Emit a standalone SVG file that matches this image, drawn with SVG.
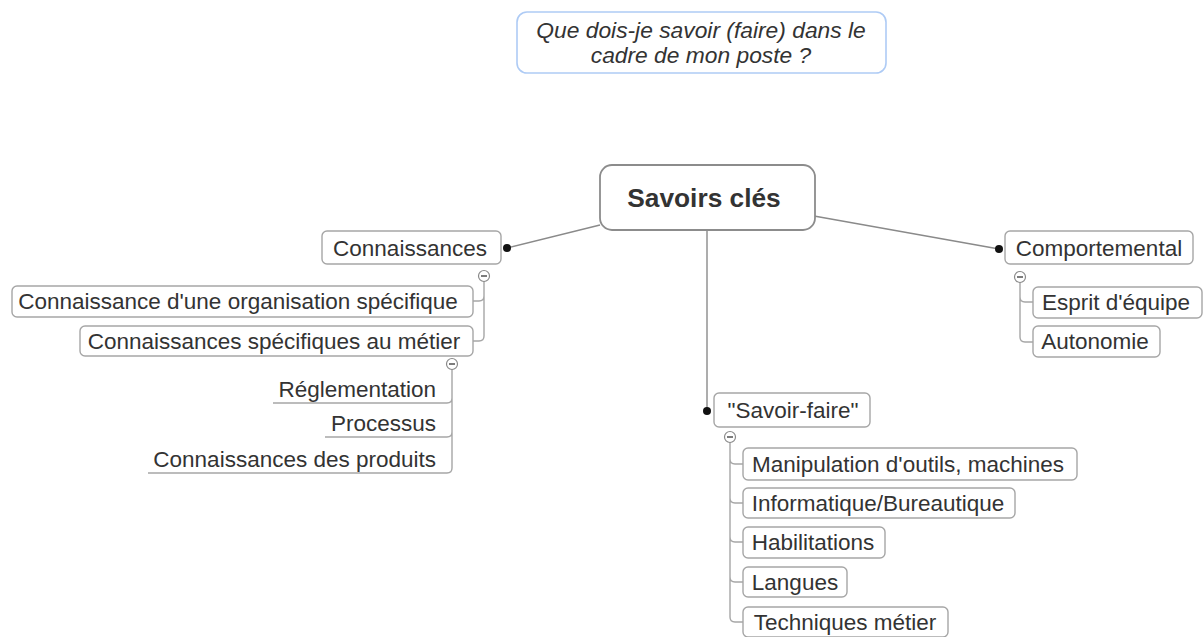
<svg xmlns="http://www.w3.org/2000/svg" width="1204" height="637" viewBox="0 0 1204 637">
<style>
.bg{fill:#ffffff}
.box{fill:#ffffff;stroke:#a6a6a6;stroke-width:1.4}
.root{fill:#ffffff;stroke:#8c8c8c;stroke-width:1.8}
.q{fill:#ffffff;stroke:#aecbf5;stroke-width:1.6}
.t{font-family:"Liberation Sans",Arial,sans-serif;font-size:22.5px;fill:#333333;text-anchor:middle}
.te{font-family:"Liberation Sans",Arial,sans-serif;font-size:22.5px;fill:#333333;text-anchor:end}
.tr{font-family:"Liberation Sans",Arial,sans-serif;font-size:26.3px;font-weight:bold;fill:#333333;text-anchor:middle}
.ti{font-family:"Liberation Sans",Arial,sans-serif;font-size:22.8px;font-style:italic;fill:#333333;text-anchor:middle}
.ln{fill:none;stroke:#8a8a8a;stroke-width:1.4}
.tree{fill:none;stroke:#a6a6a6;stroke-width:1.4}
.dot{fill:#111111}
.col{fill:#ffffff;stroke:#8a8a8a;stroke-width:1.2}
.dash{stroke:#444444;stroke-width:1.4}
</style>
<rect class="bg" x="0" y="0" width="1204" height="637"/>

<g id="connectors">
  <line class="ln" x1="600" y1="225" x2="507" y2="248"/>
  <line class="ln" x1="814" y1="216" x2="999" y2="249"/>
  <line class="ln" x1="707" y1="230" x2="707" y2="411"/>
  <circle class="dot" cx="507" cy="248" r="4"/>
  <circle class="dot" cx="999" cy="249" r="4"/>
  <circle class="dot" cx="707" cy="411" r="4"/>
  <!-- Connaissances subtree -->
  <path class="tree" d="M484 281 V296 Q484 301 479 301 H473 M484 296 V336 Q484 341 479 341 H473"/>
  <!-- Connaissances spécifiques subtree -->
  <path class="tree" d="M452 369 V398 Q452 403 447 403 H273 M452 398 V432 Q452 437 447 437 H325 M452 432 V468 Q452 473 447 473 H148"/>
  <!-- Comportemental subtree -->
  <path class="tree" d="M1020 282 V297 Q1020 302 1025 302 H1033 M1020 297 V337 Q1020 342 1025 342 H1033"/>
  <!-- Savoir-faire subtree -->
  <path class="tree" d="M730 442 V459 Q730 464 735 464 H743 M730 459 V498 Q730 503 735 503 H743 M730 498 V537 Q730 542 735 542 H743 M730 537 V577 Q730 582 735 582 H743 M730 577 V617 Q730 622 735 622 H743"/>
  <!-- collapse markers -->
  <g>
    <circle class="col" cx="484" cy="276" r="5.5"/><line class="dash" x1="481" y1="276" x2="487" y2="276"/>
    <circle class="col" cx="452" cy="364" r="5.5"/><line class="dash" x1="449" y1="364" x2="455" y2="364"/>
    <circle class="col" cx="1020" cy="277" r="5.5"/><line class="dash" x1="1017" y1="277" x2="1023" y2="277"/>
    <circle class="col" cx="730" cy="437" r="5.5"/><line class="dash" x1="727" y1="437" x2="733" y2="437"/>
  </g>
</g>

<g id="question">
  <rect class="q" x="517" y="12" width="369" height="61" rx="10"/>
  <text class="ti" x="701" y="38">Que dois-je savoir (faire) dans le</text>
  <text class="ti" x="701" y="63">cadre de mon poste ?</text>
</g>

<g id="root">
  <rect class="root" x="600" y="165" width="215" height="65" rx="12"/>
  <text class="tr" x="704" y="207">Savoirs clés</text>
</g>

<g id="connaissances">
  <rect class="box" x="322" y="231" width="179" height="33" rx="5"/>
  <text class="t" x="410" y="256">Connaissances</text>
</g>
<g id="organisation">
  <rect class="box" x="12" y="286" width="461" height="31" rx="5"/>
  <text class="t" x="238" y="309">Connaissance d'une organisation spécifique</text>
</g>
<g id="metier">
  <rect class="box" x="80" y="326" width="393" height="30" rx="5"/>
  <text class="t" x="274" y="349">Connaissances spécifiques au métier</text>
</g>
<g id="reglementation">
  <text class="te" x="436" y="397">Réglementation</text>
</g>
<g id="processus">
  <text class="te" x="436" y="431">Processus</text>
</g>
<g id="produits">
  <text class="te" x="436" y="467">Connaissances des produits</text>
</g>

<g id="comportemental">
  <rect class="box" x="1005" y="231" width="188" height="33" rx="5"/>
  <text class="t" x="1099" y="256">Comportemental</text>
</g>
<g id="esprit">
  <rect class="box" x="1033" y="287" width="169" height="31" rx="5"/>
  <text class="t" x="1116" y="310">Esprit d'équipe</text>
</g>
<g id="autonomie">
  <rect class="box" x="1033" y="326" width="127" height="31" rx="5"/>
  <text class="t" x="1095" y="349">Autonomie</text>
</g>

<g id="savoirfaire">
  <rect class="box" x="714" y="393" width="156" height="34" rx="5"/>
  <text class="t" x="793" y="418">"Savoir-faire"</text>
</g>
<g id="manipulation">
  <rect class="box" x="743" y="448" width="334" height="32" rx="5"/>
  <text class="t" x="908" y="472">Manipulation d'outils, machines</text>
</g>
<g id="informatique">
  <rect class="box" x="743" y="488" width="272" height="30" rx="5"/>
  <text class="t" x="878" y="511">Informatique/Bureautique</text>
</g>
<g id="habilitations">
  <rect class="box" x="743" y="527" width="142" height="31" rx="5"/>
  <text class="t" x="813" y="550">Habilitations</text>
</g>
<g id="langues">
  <rect class="box" x="743" y="567" width="104" height="30" rx="5"/>
  <text class="t" x="795" y="590">Langues</text>
</g>
<g id="techniques">
  <rect class="box" x="743" y="607" width="205" height="30" rx="5"/>
  <text class="t" x="845" y="630">Techniques métier</text>
</g>
</svg>
